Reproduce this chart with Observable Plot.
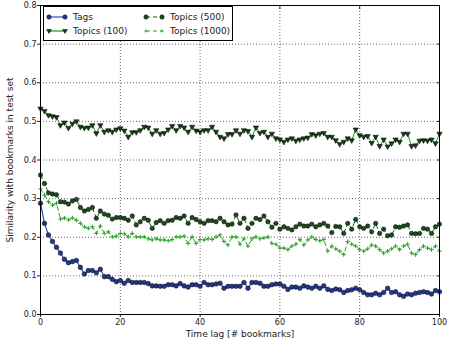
<!DOCTYPE html>
<html>
<head>
<meta charset="utf-8">
<script src="https://cdn.jsdelivr.net/npm/d3@7"></script>
<script src="https://cdn.jsdelivr.net/npm/@observablehq/plot@0.6"></script>
<style>
  html, body { margin: 0; padding: 0; background: #fff; }
  #wrap { position: relative; width: 449px; height: 347px; }
  #legend { position: absolute; left: 43px; top: 6px; width: 188px; height: 33px; border: 1px solid #000; background: #fff; }
  svg { font-family: "DejaVu Sans", sans-serif; }
</style>
</head>
<body>
<div id="wrap"></div>
<script>
const seriesNames = ["Tags", "Topics (100)", "Topics (500)", "Topics (1000)"];

const tags = [.288,.236,.206,.189,.174,.159,.143,.134,.137,.140,.122,.105,.114,.114,.108,.117,.098,.098,.091,.085,
.088,.081,.088,.083,.083,.083,.083,.080,.074,.074,.073,.073,.077,.077,.074,.080,.074,.071,.077,.077,
.073,.083,.077,.077,.079,.081,.068,.073,.073,.073,.073,.083,.068,.083,.083,.081,.073,.073,.077,.079,
.079,.073,.065,.071,.071,.068,.074,.071,.068,.073,.068,.074,.065,.062,.066,.064,.057,.062,.064,.068,
.064,.057,.051,.051,.055,.051,.057,.068,.057,.059,.051,.047,.053,.051,.055,.057,.059,.057,.053,.062,.059];

const topics100 = [.533,.527,.516,.513,.511,.490,.497,.483,.494,.500,.486,.483,.484,.490,.469,.490,.473,.477,.473,.479,
.482,.476,.460,.472,.472,.477,.486,.484,.468,.477,.468,.470,.479,.488,.477,.488,.484,.473,.486,.476,
.473,.477,.477,.486,.473,.460,.456,.467,.467,.477,.468,.477,.475,.460,.484,.470,.473,.460,.468,.456,
.453,.447,.453,.456,.450,.453,.456,.458,.467,.464,.468,.470,.460,.460,.451,.441,.447,.456,.451,.479,
.464,.460,.462,.444,.460,.436,.453,.435,.443,.453,.447,.468,.468,.436,.438,.450,.451,.450,.453,.443,.468];

const topics500 = [.361,.339,.315,.312,.310,.292,.291,.286,.294,.298,.277,.268,.272,.277,.249,.268,.260,.257,.247,.251,
.251,.249,.244,.255,.232,.240,.249,.244,.223,.238,.243,.236,.243,.244,.251,.249,.255,.236,.251,.246,
.240,.236,.243,.243,.240,.249,.240,.232,.234,.258,.236,.249,.223,.236,.249,.246,.255,.240,.226,.236,
.221,.227,.223,.219,.227,.234,.229,.229,.234,.227,.232,.236,.229,.212,.228,.227,.210,.236,.221,.246,
.227,.223,.229,.214,.236,.210,.221,.204,.206,.227,.226,.229,.232,.210,.209,.210,.223,.221,.210,.227,.234];

const topics1000 = [.325,.309,.292,.283,.288,.247,.250,.245,.250,.244,.236,.227,.223,.227,.210,.229,.210,.214,.201,.203,
.210,.209,.201,.210,.201,.201,.201,.196,.193,.196,.193,.193,.191,.194,.201,.201,.203,.184,.201,.184,
.194,.193,.196,.194,.201,.206,.189,.180,.201,.201,.182,.196,.177,.196,.201,.196,.198,.201,.184,.182,
.172,.172,.168,.177,.182,.194,.180,.193,.201,.194,.191,.194,.164,.177,.170,.164,.155,.189,.182,.177,
.168,.164,.170,.180,.177,.168,.159,.164,.170,.177,.168,.177,.182,.159,.155,.168,.177,.172,.168,.177,.164];

const xTicks = [0, 20, 40, 60, 80, 100];
const yTicks = [0.0, 0.1, 0.2, 0.3, 0.4, 0.5, 0.6, 0.7, 0.8];

const toRows = arr => arr.map((v, i) => ({lag: i, value: v}));
const dTags = toRows(tags), d100 = toRows(topics100), d500 = toRows(topics500), d1000 = toRows(topics1000);

const C = {
  tagsLine: "#2d50b5", tagsFill: "#22398f",
  t100Line: "#1e961e", t100Fill: "#153f15",
  t500Line: "#1b5e1b", t500Fill: "#1d4d1d",
  t1000Line: "#2ca02c"
};
const blank = () => "";

const chart = Plot.plot({
  width: 449, height: 347,
  marginLeft: 40, marginRight: 10, marginTop: 5, marginBottom: 33,
  style: {fontFamily: "DejaVu Sans, sans-serif", fontSize: "8px", background: "#fff", color: "#222"},
  x: {domain: [0, 100], ticks: xTicks, label: null},
  y: {domain: [0, 0.8], ticks: yTicks, label: null, tickFormat: d3.format(".1f")},
  marks: [
    Plot.gridX(xTicks.slice(1, -1), {stroke: "#000", strokeOpacity: 0.6, strokeDasharray: "1,2"}),
    Plot.gridY(yTicks.slice(1, -1), {stroke: "#000", strokeOpacity: 0.6, strokeDasharray: "1,2"}),
    Plot.axisX(xTicks, {tickSize: 3, tickPadding: 2, fontSize: 8, label: null}),
    Plot.axisX(xTicks, {anchor: "top", tickSize: -3, tickFormat: blank, label: null}),
    Plot.axisY(yTicks, {tickSize: 3, tickPadding: 1, fontSize: 8, tickFormat: d3.format(".1f"), label: null}),
    Plot.axisY(yTicks, {anchor: "right", tickSize: -3, tickFormat: blank, label: null}),
    // Topics (100)
    Plot.line(d100, {x: "lag", y: "value", stroke: C.t100Line, strokeWidth: 1}),
    Plot.dot(d100, {x: "lag", y: "value", symbol: "triangle", rotate: 180, r: 2.0, fill: C.t100Fill, stroke: "#000", strokeWidth: 0.5}),
    // Topics (1000)
    Plot.line(d1000, {x: "lag", y: "value", stroke: C.t1000Line, strokeWidth: 1, strokeDasharray: "4,3"}),
    Plot.dot(d1000, {x: "lag", y: "value", symbol: "plus", r: 1.5, stroke: C.t1000Line, strokeWidth: 1}),
    // Topics (500)
    Plot.line(d500, {x: "lag", y: "value", stroke: C.t500Line, strokeWidth: 1, strokeDasharray: "4,3"}),
    Plot.dot(d500, {x: "lag", y: "value", r: 2.2, fill: C.t500Fill, stroke: "#000", strokeWidth: 0.5}),
    // Tags
    Plot.line(dTags, {x: "lag", y: "value", stroke: C.tagsLine, strokeWidth: 1.2}),
    Plot.dot(dTags, {x: "lag", y: "value", r: 2.3, fill: C.tagsFill, stroke: "#000", strokeWidth: 0.5}),
    Plot.frame({stroke: "#000", strokeWidth: 1}),
    Plot.text(["Time lag [# bookmarks]"], {frameAnchor: "bottom", dy: 22, fontSize: 9, fill: "#222"}),
    Plot.text(["Similarity with bookmarks in test set"], {frameAnchor: "left", dx: -30, rotate: -90, textAnchor: "middle", fontSize: 9, fill: "#222"})
  ]
});

const wrap = document.getElementById("wrap");
wrap.appendChild(chart);

// Legend
const legendItems = [
  {name: seriesNames[0], line: C.tagsLine, dash: null, marker: "circle", fill: C.tagsFill, col: 0, row: 0},
  {name: seriesNames[1], line: C.t100Line, dash: null, marker: "tri", fill: C.t100Fill, col: 0, row: 1},
  {name: seriesNames[2], line: C.t500Line, dash: "4,3", marker: "circle", fill: C.t500Fill, col: 1, row: 0},
  {name: seriesNames[3], line: C.t1000Line, dash: "4,3", marker: "plus", fill: C.t1000Line, col: 1, row: 1}
];
const leg = document.createElement("div");
leg.id = "legend";
const ls = d3.create("svg").attr("width", 188).attr("height", 33)
  .style("font-family", "DejaVu Sans, sans-serif").style("font-size", "9px");
legendItems.forEach(it => {
  const x0 = it.col === 0 ? 5 : 102, y0 = it.row === 0 ? 10 : 24;
  const g = ls.append("g").attr("transform", `translate(${x0},${y0})`);
  g.append("line").attr("x1", 0).attr("x2", 16).attr("stroke", it.line).attr("stroke-width", 1.2)
    .attr("stroke-dasharray", it.dash);
  [0, 16].forEach(cx => {
    if (it.marker === "circle") g.append("circle").attr("cx", cx).attr("r", 2.2).attr("fill", it.fill).attr("stroke", "#000").attr("stroke-width", 0.5);
    else if (it.marker === "tri") g.append("path").attr("d", `M${cx-2.4},-1.5L${cx+2.4},-1.5L${cx},2.4Z`).attr("fill", it.fill).attr("stroke", "#000").attr("stroke-width", 0.5);
    else g.append("path").attr("d", `M${cx-1.5},0H${cx+1.5}M${cx},-1.5V1.5`).attr("stroke", it.fill).attr("stroke-width", 1);
  });
  g.append("text").attr("x", 24).attr("y", 0).attr("dy", "0.35em").attr("fill", "#222").text(it.name);
});
leg.appendChild(ls.node());
wrap.appendChild(leg);
</script>
</body>
</html>
